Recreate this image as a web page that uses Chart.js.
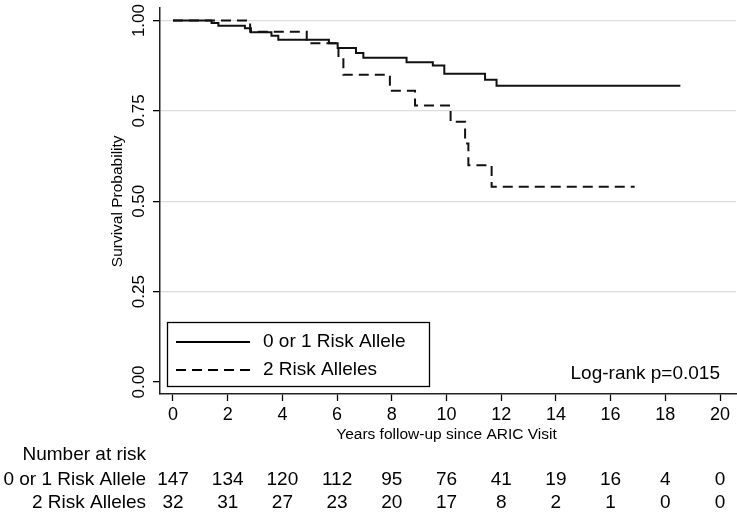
<!DOCTYPE html>
<html>
<head>
<meta charset="utf-8">
<script src="https://cdn.jsdelivr.net/npm/chart.js@4.4.1/dist/chart.umd.min.js"></script>
<style>
  html, body { margin: 0; padding: 0; background: #fff; }
  #wrap { width: 737px; height: 512px; }
</style>
</head>
<body>
<div id="wrap"><canvas id="km"></canvas></div>
<script>
// x ticks (years) and y ticks
const yearTicks = [0, 2, 4, 6, 8, 10, 12, 14, 16, 18, 20];
const survTicks = [0, 0.25, 0.5, 0.75, 1];
const survTickLabels = ['0.00', '0.25', '0.50', '0.75', '1.00'];

// 0 or 1 Risk Allele - step times and survival after each step
const lowTimes = [0, 1.41, 1.66, 2.63, 2.85, 3.6, 3.85, 5.7, 6.02, 6.69, 6.96, 8.54, 9.5, 9.92, 11.41, 11.83, 18.55];
const lowSurv  = [1, 0.993, 0.986, 0.979, 0.968, 0.958, 0.947, 0.937, 0.924, 0.91, 0.897, 0.885, 0.876, 0.853, 0.836, 0.82, 0.82];

// 2 Risk Alleles
const highTimes = [0, 2.82, 4.89, 6.05, 6.23, 7.93, 8.85, 10.15, 10.68, 10.8, 11.65, 16.88];
const highSurv  = [1, 0.969, 0.9375, 0.897, 0.85, 0.806, 0.765, 0.72, 0.66, 0.6, 0.54, 0.54];

// number at risk table
const seriesNames = ['0 or 1 Risk Allele', '2 Risk Alleles'];
const riskLow  = [147, 134, 120, 112, 95, 76, 41, 19, 16, 4, 0];
const riskHigh = [32, 31, 27, 23, 20, 17, 8, 2, 1, 0, 0];

const FONT = '"Liberation Sans", Arial, Helvetica, sans-serif';

const toPoints = (times, surv) => times.map((t, i) => ({x: t, y: surv[i]}));

// titles, y labels, legend box, log-rank and risk table
const extras = {
  id: 'extras',
  afterDraw(chart) {
    const ctx = chart.ctx;
    const xs = chart.scales.x;
    const ys = chart.scales.y;
    ctx.save();
    ctx.fillStyle = '#000';

    // y tick labels, rotated
    ctx.font = '17px ' + FONT;
    ctx.textAlign = 'center';
    ctx.textBaseline = 'middle';
    survTicks.forEach((v, i) => {
      ctx.save();
      ctx.translate(139, ys.getPixelForValue(v));
      ctx.rotate(-Math.PI / 2);
      ctx.fillText(survTickLabels[i], 0, 0);
      ctx.restore();
    });

    // y title
    ctx.font = '15.5px ' + FONT;
    ctx.save();
    ctx.translate(118, ys.getPixelForValue(0.5));
    ctx.rotate(-Math.PI / 2);
    ctx.fillText('Survival Probability', 0, 0);
    ctx.restore();

    // x title
    ctx.fillText('Years follow-up since ARIC Visit', (xs.getPixelForValue(0) + xs.getPixelForValue(20)) / 2, 435);

    // legend
    ctx.strokeStyle = '#000';
    ctx.lineWidth = 1.3;
    ctx.strokeRect(167.5, 322.5, 262, 64);
    ctx.lineWidth = 2;
    ctx.beginPath();
    ctx.moveTo(176, 342); ctx.lineTo(250, 342);
    ctx.stroke();
    ctx.setLineDash([10, 6]);
    ctx.beginPath();
    ctx.moveTo(176, 370); ctx.lineTo(250, 370);
    ctx.stroke();
    ctx.setLineDash([]);
    ctx.font = '19px ' + FONT;
    ctx.textAlign = 'left';
    ctx.fillText(seriesNames[0], 263, 342);
    ctx.fillText(seriesNames[1], 263, 370);

    // log-rank
    ctx.textAlign = 'right';
    ctx.fillText('Log-rank p=0.015', 720, 374);

    // number at risk
    ctx.fillText('Number at risk', 146, 455);
    ctx.fillText(seriesNames[0], 146, 480);
    ctx.fillText(seriesNames[1], 146, 503);
    ctx.textAlign = 'center';
    yearTicks.forEach((t, i) => {
      const px = xs.getPixelForValue(t);
      ctx.fillText(String(riskLow[i]), px, 480);
      ctx.fillText(String(riskHigh[i]), px, 503);
    });
    ctx.restore();
  }
};

new Chart(document.getElementById('km'), {
  type: 'line',
  data: {
    datasets: [
      {
        label: seriesNames[0],
        data: toPoints(lowTimes, lowSurv),
        stepped: 'before',
        borderColor: '#111',
        borderWidth: 2,
        pointRadius: 0,
        fill: false
      },
      {
        label: seriesNames[1],
        data: toPoints(highTimes, highSurv),
        stepped: 'before',
        borderColor: '#111',
        borderWidth: 2,
        borderDash: [10, 6],
        pointRadius: 0,
        fill: false
      }
    ]
  },
  options: {
    responsive: true,
    maintainAspectRatio: false,
    animation: false,
    events: [],
    layout: { padding: { top: 8, right: 1, left: 0, bottom: 0 } },
    plugins: {
      legend: { display: false },
      tooltip: { enabled: false }
    },
    scales: {
      x: {
        type: 'linear',
        min: -0.475,
        max: 20.585,
        afterBuildTicks: (scale) => { scale.ticks = yearTicks.map(v => ({value: v})); },
        afterFit: (scale) => { scale.height = 118; },
        ticks: {
          color: '#000',
          font: { family: FONT, size: 18 },
          padding: 3,
          maxRotation: 0,
          autoSkip: false
        },
        grid: {
          drawOnChartArea: false,
          drawTicks: true,
          tickLength: 7,
          tickColor: '#000',
          tickWidth: 1.3
        },
        border: { display: true, color: '#222', width: 1.5 }
      },
      y: {
        type: 'linear',
        min: -0.0332,
        max: 1.0348,
        afterBuildTicks: (scale) => { scale.ticks = survTicks.map(v => ({value: v})); },
        afterFit: (scale) => { scale.width = 160; },
        ticks: { display: false },
        grid: {
          color: (c) => (c.tick && c.tick.value === 0) ? 'rgba(0,0,0,0)' : '#dcdcdc',
          lineWidth: 1.3,
          drawTicks: true,
          tickLength: 7,
          tickColor: '#000',
          tickWidth: 1.3
        },
        border: { display: true, color: '#222', width: 1.5 }
      }
    }
  },
  plugins: [extras]
});
</script>
</body>
</html>
